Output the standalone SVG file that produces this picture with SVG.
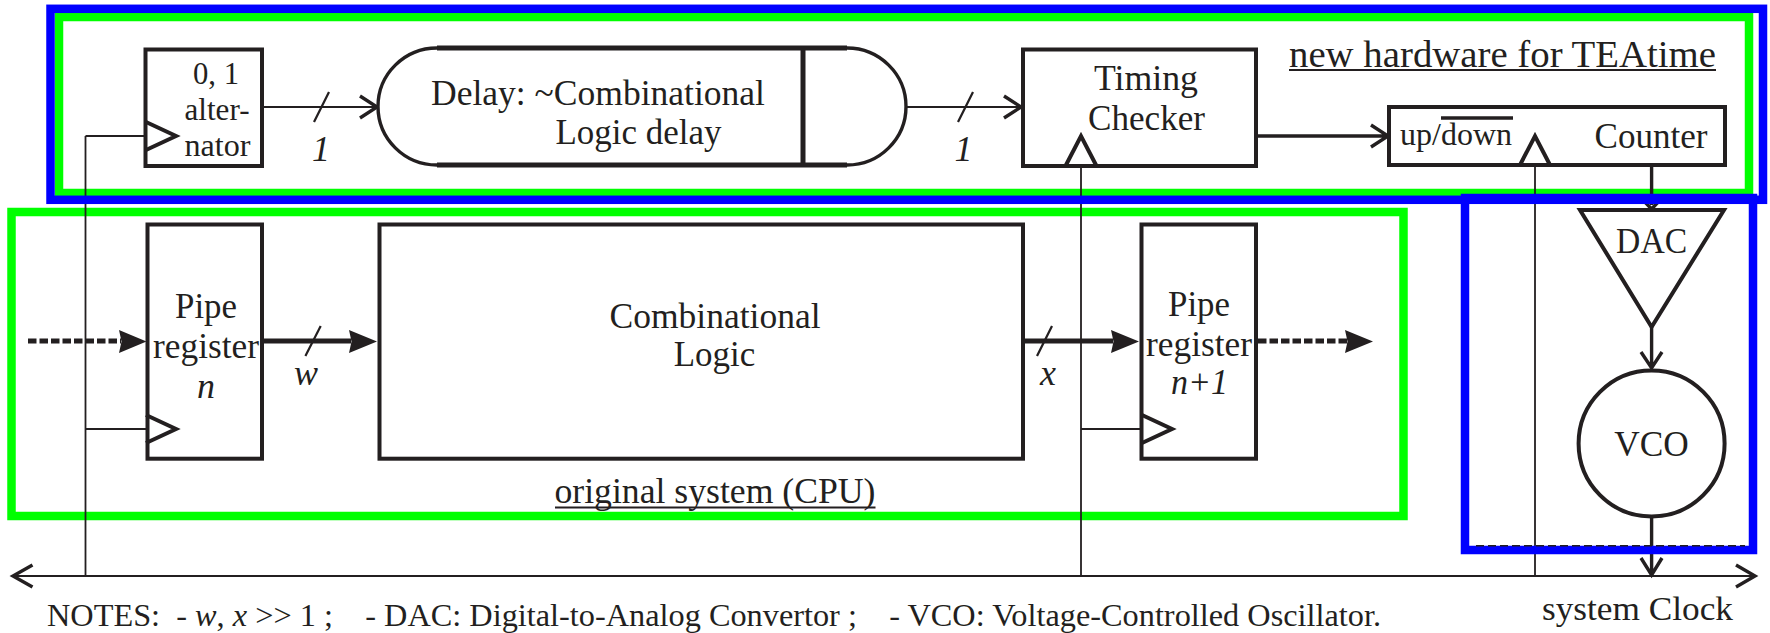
<svg xmlns="http://www.w3.org/2000/svg" width="1770" height="633" viewBox="0 0 1770 633">
<style>
text{font-family:"Liberation Serif","Times New Roman",serif;font-size:36px;fill:#231f20;text-anchor:middle}
.i{font-style:italic}
.l{text-anchor:start}
.a{font-size:30.5px}
.b{fill:#fff;stroke:#231f20;stroke-width:4}
.t{fill:none;stroke:#231f20;stroke-width:4}
.w{fill:none;stroke:#231f20;stroke-width:2.2}
.c{fill:none;stroke:#231f20;stroke-width:1.8}
.h{fill:none;stroke:#231f20;stroke-width:3.4}
.bus{fill:none;stroke:#231f20;stroke-width:5}
.dash{fill:none;stroke:#231f20;stroke-width:5;stroke-dasharray:8.5 3}
.f{fill:#231f20}
.g{fill:none;stroke:#00ff00;stroke-width:8.5}
.bl{fill:none;stroke:#0000ff;stroke-width:8.5}
</style>
<rect width="1770" height="633" fill="#fff"/>
<g id="frames-green">
<rect id="green-top" class="g" x="59" y="17" width="1690" height="176"/>
<rect id="green-cpu" class="g" x="11.5" y="212" width="1392" height="304"/>
</g>
<g id="connectors">
<path class="c" d="M85.5 136H146M85.5 136V576M85.5 429H146M1081 166V576M1081 429H1142M1535 166V576"/>
<path class="w" d="M12 576H1755"/>
<path class="h" d="M32.5 565L13 576L32.5 587M1736 565L1755 576L1736 587"/>
<path class="w" d="M264 107H377"/>
<path class="h" d="M360 96L377 107L360 118"/>
<path class="w" d="M329 92L314 122"/>
<path class="w" d="M906 107H1022"/>
<path class="h" d="M1004 96L1021 107L1004 118"/>
<path class="w" d="M973 92L958 122"/>
<path class="h" d="M1258 136H1387M1371 125L1388 136L1371 147"/>
<path class="h" d="M1651.6 167V205"/>
<path class="h" d="M1642 199L1651.6 209L1661 199"/>
<path class="dash" d="M28 341H121"/>
<path class="f" d="M119 330L146.5 341.5L119 353L121.5 341.5Z"/>
<path class="bus" d="M264 341H351"/>
<path class="f" d="M349 330L377 341.5L349 353L351.5 341.5Z"/>
<path class="w" d="M320.7 326L305.4 356"/>
<path class="bus" d="M1023 341H1113"/>
<path class="f" d="M1111 330L1139 341.5L1111 353L1113.5 341.5Z"/>
<path class="w" d="M1052 326L1037 356"/>
<path class="dash" d="M1258 341H1347"/>
<path class="f" d="M1345 330L1373 341.5L1345 353L1347.5 341.5Z"/>
<path class="h" d="M1651.6 327V368M1641 352L1651.6 368L1662 352"/>
<path class="h" d="M1651.6 518V575M1641 558L1651.6 575L1662 558"/>
</g>
<g id="frames-blue">
<rect id="blue-top" class="bl" x="50.5" y="8.8" width="1712.5" height="191"/>
<rect id="blue-pll" class="bl" x="1465" y="198" width="288" height="352"/>
<path d="M1476 545.8H1745" fill="none" stroke="#231f20" stroke-width="1.6" stroke-dasharray="8 4"/>
</g>
<g id="alternator">
<rect class="b" x="145.5" y="49.5" width="116.5" height="116.5"/>
<path class="t" d="M146 122L176 136L146 150"/>
<text class="a" x="216" y="84" textLength="46" lengthAdjust="spacingAndGlyphs">0, 1</text><text class="a" x="217" y="119.5" textLength="65" lengthAdjust="spacingAndGlyphs">alter-</text><text class="a" x="217.5" y="156" textLength="66" lengthAdjust="spacingAndGlyphs">nator</text>
</g>
<g id="delay">
<path d="M437 48H847A59 58.5 0 0 1 847 165H437A59 58.5 0 0 1 437 48Z" fill="#fff"/>
<path class="h" d="M437 48A59 58.5 0 0 0 437 165M847 48A59 58.5 0 0 1 847 165"/>
<path class="bus" d="M437 48H847M437 165H847M803 48V165"/>
<text x="598" y="105" textLength="334" lengthAdjust="spacingAndGlyphs">Delay: ~Combinational</text>
<text x="638.5" y="144" textLength="166" lengthAdjust="spacingAndGlyphs">Logic delay</text>
</g>
<g id="label-1a"><text class="i" x="321" y="161">1</text></g>
<g id="label-1b"><text class="i" x="963.5" y="161">1</text></g>
<g id="timing-checker">
<rect class="b" x="1023" y="49.5" width="233" height="116.5"/>
<path class="t" d="M1066 165L1081 136L1096 165"/>
<text x="1146" y="89.5" textLength="104" lengthAdjust="spacingAndGlyphs">Timing</text><text x="1146.5" y="129.5" textLength="117" lengthAdjust="spacingAndGlyphs">Checker</text>
</g>
<g id="title">
<text x="1502.5" y="66.5" style="font-size:37px" textLength="427" lengthAdjust="spacingAndGlyphs">new hardware for TEAtime</text>
<path class="w" d="M1289 70H1716"/>
</g>
<g id="counter">
<rect class="b" x="1389" y="107" width="336" height="58"/>
<path class="t" d="M1520 165L1535 136L1550 165"/>
<path class="h" d="M1441 118H1513"/>
<text class="l" x="1400" y="145" style="font-size:31px" textLength="112" lengthAdjust="spacingAndGlyphs">up/down</text>
<text class="l" x="1594.5" y="148" style="font-size:35px" textLength="113" lengthAdjust="spacingAndGlyphs">Counter</text>
</g>
<g id="dac">
<path class="b" d="M1580 210H1724L1651.6 327Z"/>
<text x="1651.6" y="253" textLength="71" lengthAdjust="spacingAndGlyphs">DAC</text>
</g>
<g id="vco">
<circle class="b" cx="1651.6" cy="443.5" r="73"/>
<text x="1651.6" y="456" textLength="74.5" lengthAdjust="spacingAndGlyphs">VCO</text>
</g>
<g id="pipe-n">
<rect class="t" x="147.5" y="224.5" width="114.5" height="234.2"/>
<path class="t" d="M146 415L176 429L146 443"/>
<text x="206" y="318" textLength="62" lengthAdjust="spacingAndGlyphs">Pipe</text><text x="206" y="358" textLength="106" lengthAdjust="spacingAndGlyphs">register</text><text class="i" x="206" y="398">n</text>
</g>
<g id="combinational">
<rect class="t" x="379.5" y="224.5" width="643.5" height="234.2"/>
<text x="715" y="328" textLength="211" lengthAdjust="spacingAndGlyphs">Combinational</text><text x="714.5" y="366" textLength="81.5" lengthAdjust="spacingAndGlyphs">Logic</text>
</g>
<g id="label-w"><text class="i" x="306" y="385">w</text></g>
<g id="label-x"><text class="i" x="1048" y="385">x</text></g>
<g id="pipe-n1">
<rect class="t" x="1141.5" y="224.5" width="114.5" height="234.2"/>
<path class="t" d="M1142 415L1172 429L1142 443"/>
<text x="1199" y="316" textLength="62" lengthAdjust="spacingAndGlyphs">Pipe</text><text x="1199" y="356" textLength="106" lengthAdjust="spacingAndGlyphs">register</text><text class="i" x="1199.5" y="394" textLength="57" lengthAdjust="spacingAndGlyphs">n+1</text>
</g>
<g id="cpu-label">
<text x="715" y="502.5" style="font-size:35px" textLength="321" lengthAdjust="spacingAndGlyphs">original system (CPU)</text>
<path class="w" d="M555 507.5H875.5"/>
</g>
<g id="notes"><text class="l" x="47" y="626" style="font-size:31px" textLength="1334" lengthAdjust="spacingAndGlyphs" xml:space="preserve">NOTES:  - <tspan class="i">w</tspan>, <tspan class="i">x</tspan> &gt;&gt; 1 ;    - DAC: Digital-to-Analog Convertor ;    - VCO: Voltage-Controlled Oscillator.</text></g>
<g id="system-clock"><text class="l" x="1542" y="620" style="font-size:34px" textLength="191" lengthAdjust="spacingAndGlyphs">system Clock</text></g>
</svg>
